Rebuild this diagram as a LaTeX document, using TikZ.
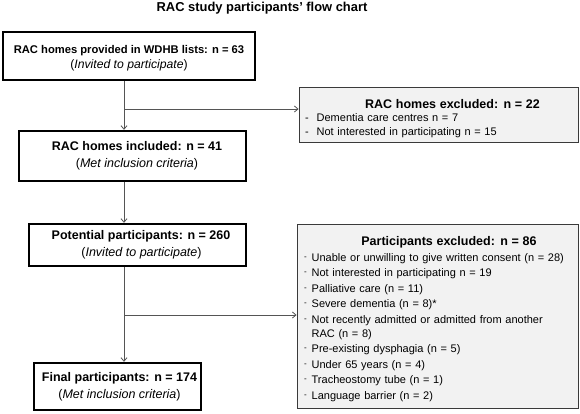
\documentclass[tikz,border=0pt]{standalone}
\usepackage{fontspec}
\setmainfont{Liberation Sans}
\usetikzlibrary{arrows.meta}
\definecolor{linegray}{HTML}{555555}
\definecolor{boxfill}{HTML}{F2F2F2}
\definecolor{boxline}{HTML}{3A3A3A}
\newcommand\exdash{\raisebox{1.8pt}{\fontsize{8}{8}\selectfont-}\hspace{5pt}}
\begin{document}
\begin{tikzpicture}[x=1pt,y=-1pt,
  mainbox/.style={draw=black, line width=2.4pt, fill=white, inner sep=0pt, align=center, font=\fontsize{12.5}{17}\selectfont},
  exbox/.style={draw=boxline, line width=0.9pt, fill=boxfill, inner ysep=0pt, align=left},
  conn/.style={draw=linegray, line width=0.8pt, -{Straight Barb[length=3.5pt,width=6pt]}},
  hdr/.style={font=\fontsize{12.9}{15}\selectfont\bfseries}
]
\useasboundingbox (0,0) rectangle (580,413);

\node[hdr] (title) at (262,8.5) {RAC study participants’ flow chart};

\node[mainbox, minimum width=252pt, minimum height=48pt, font=\fontsize{12.2}{15}\selectfont] (box1) at (129,56)
  {{\fontsize{11.2}{15}\selectfont\bfseries\rule{0pt}{13pt}RAC homes provided in WDHB lists: n = 63}\\(\textit{Invited to participate})};
\node[mainbox, minimum width=227pt, minimum height=50pt] (box2) at (132.5,156)
  {\hspace*{9pt}\textbf{RAC homes included: n = 41}\\\hspace*{9pt}(\textit{Met inclusion criteria})};
\node[mainbox, minimum width=217pt, minimum height=42pt] (box3) at (137.5,245)
  {\hspace*{7pt}\textbf{Potential participants: n = 260}\\\hspace*{8pt}(\textit{Invited to participate})};
\node[mainbox, minimum width=167pt, minimum height=47pt] (box4) at (117.5,386.5)
  {\hspace*{4pt}\textbf{Final participants: n = 174}\\\hspace*{4pt}(\textit{Met inclusion criteria})};

\node[exbox, inner xsep=6pt, minimum width=279pt, minimum height=55pt, text width=267pt,
      font=\fontsize{11}{13.7}\selectfont] (ex1) at (438.5,114.5)
  {\makebox[267pt]{\hspace{28pt}\fontsize{12.5}{13.7}\selectfont\bfseries\rule{0pt}{17pt}RAC homes excluded: n = 22}\\
   -\hspace{8pt}Dementia care centres n = 7\\
   -\hspace{8pt}Not interested in participating n = 15};

\node[exbox, inner xsep=7pt, minimum width=281pt, minimum height=184pt, text width=267pt,
      font=\fontsize{11}{15.5}\selectfont] (ex2) at (437.5,316)
  {\makebox[267pt]{\hspace{23pt}\fontsize{12.5}{15.5}\selectfont\bfseries\rule{0pt}{15pt}Participants excluded: n = 86}\\
   \exdash Unable or unwilling to give written consent (n = 28)\\
   \exdash Not interested in participating n = 19\\
   \exdash Palliative care (n = 11)\\
   \exdash Severe dementia (n = 8)*\\
   \exdash Not recently admitted or admitted from another\\[-1.5pt]
   \phantom{\exdash}RAC (n = 8)\\
   \exdash Pre-existing dysphagia (n = 5)\\
   \exdash Under 65 years (n = 4)\\
   \exdash Tracheostomy tube (n = 1)\\
   \exdash Language barrier (n = 2)};

\coordinate (j1) at (124,109);
\coordinate (j2) at (124,315);

\draw[conn] (box1.south -| j1) -- (box2.north -| j1);
\draw[conn] (j1) -- (j1 -| ex1.west);
\draw[conn] (box2.south -| j1) -- (box3.north -| j1);
\draw[conn] (box3.south -| j1) -- (box4.north -| j1);
\draw[conn] (j2) -- (j2 -| ex2.west);
\end{tikzpicture}
\end{document}
